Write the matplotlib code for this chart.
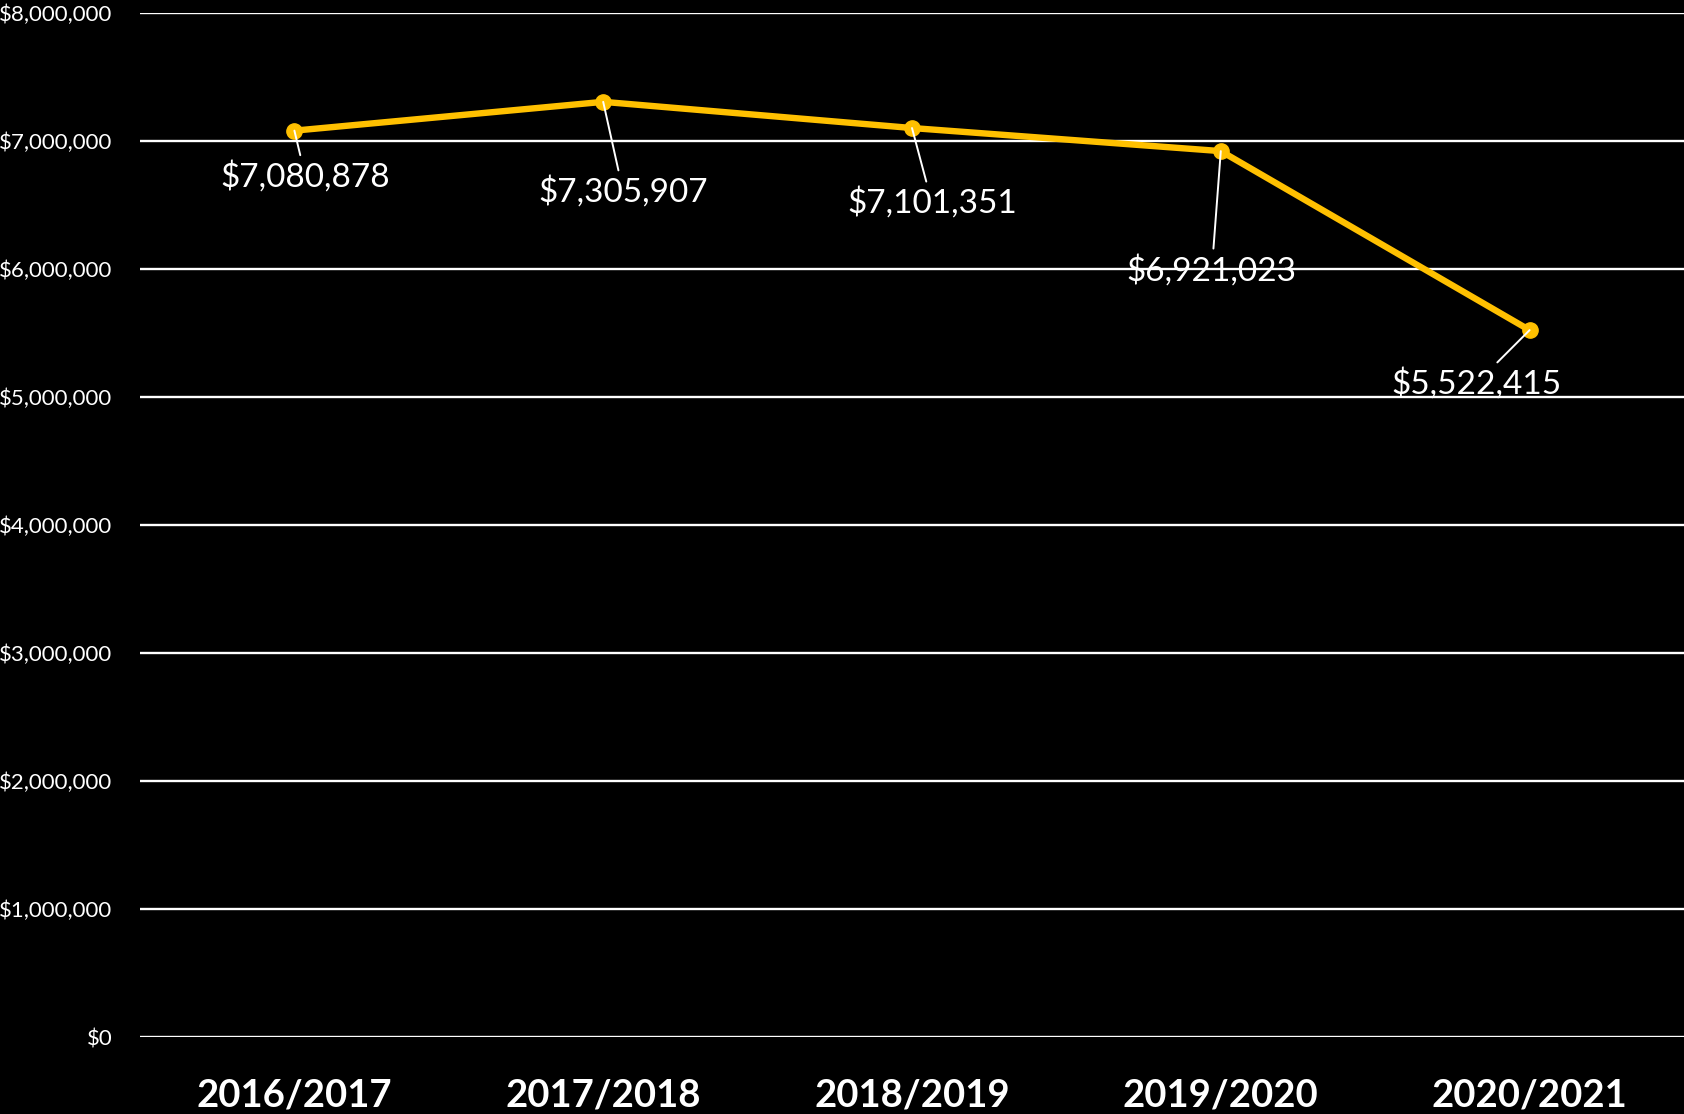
import matplotlib.pyplot as plt
from matplotlib.ticker import FuncFormatter

years = ['2016/2017', '2017/2018', '2018/2019', '2019/2020', '2020/2021']
revenue = [7080878, 7305907, 7101351, 6921023, 5522415]
# where each value label sits relative to its point, in pixels
label_offsets = [(11, -46), (20, -90), (20, -75), (-9, -119), (-53, -53)]

plt.rcParams['font.family'] = ['Lato', 'DejaVu Sans']

fig = plt.figure(figsize=(16.84, 11.14), dpi=100, facecolor='black')
ax = fig.add_axes([140 / 1684, 1 - 1037 / 1114, 1544 / 1684, 1024 / 1114])
ax.set_facecolor('black')

x = range(len(years))
ax.plot(x, revenue, color='#FFC000', lw=4.6, marker='o', ms=11, zorder=3)

for i, v in enumerate(revenue):
    ax.annotate('${:,}'.format(v), xy=(i, v), xytext=label_offsets[i],
                textcoords='offset pixels', ha='center', va='center',
                color='white', fontsize=24,
                arrowprops=dict(arrowstyle='-', color='white', lw=1.4,
                                shrinkA=2, shrinkB=0))

ax.set_xlim(-0.5, len(years) - 0.5)
ax.set_ylim(0, 8000000)
ax.set_yticks(range(0, 8000001, 1000000))
ax.yaxis.set_major_formatter(FuncFormatter(lambda v, p: '${:,.0f}'.format(v)))
ax.grid(axis='y', color='white', lw=1.7)
ax.set_axisbelow(True)

ax.set_xticks(list(x))
ax.set_xticklabels(years, fontsize=27.5, fontweight='bold', color='white')
ax.tick_params(axis='y', length=0, pad=20, labelsize=16, labelcolor='white')
ax.tick_params(axis='x', length=0, pad=30)
for s in ax.spines.values():
    s.set_visible(False)

fig.savefig('out.png', dpi=100, facecolor='black')
